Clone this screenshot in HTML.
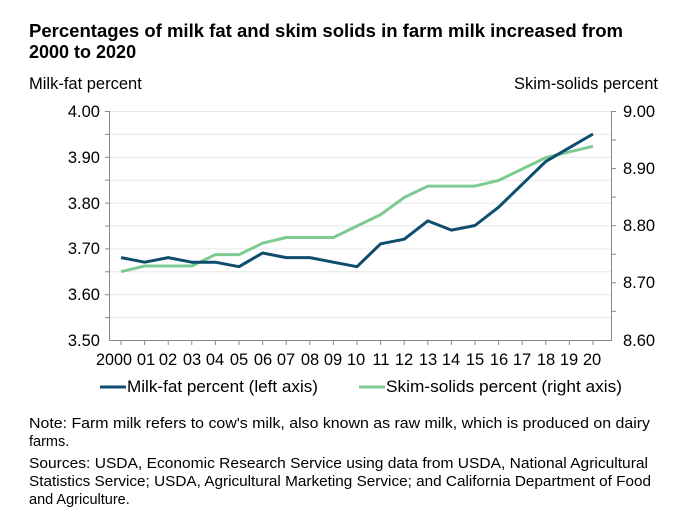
<!DOCTYPE html>
<html><head><meta charset="utf-8"><style>
body{margin:0;background:#fff;width:700px;height:526px;overflow:hidden;font-family:"Liberation Sans",sans-serif;color:#000}
</style></head><body>
<svg width="700" height="526" xmlns="http://www.w3.org/2000/svg" font-family="Liberation Sans, sans-serif">
<text x="29" y="37" font-size="18" font-weight="bold" textLength="594" lengthAdjust="spacingAndGlyphs">Percentages of milk fat and skim solids in farm milk increased from</text>
<text x="29" y="58" font-size="18" font-weight="bold">2000 to 2020</text>
<text x="29" y="89" font-size="16.5">Milk-fat percent</text>
<text x="658" y="89" font-size="16.5" text-anchor="end">Skim-solids percent</text>
<g stroke="#e6e6e6" stroke-width="1">
<line x1="109" x2="612" y1="111.5" y2="111.5"/><line x1="109" x2="612" y1="134.4" y2="134.4"/>
<line x1="109" x2="612" y1="157.3" y2="157.3"/><line x1="109" x2="612" y1="180.2" y2="180.2"/>
<line x1="109" x2="612" y1="203.1" y2="203.1"/><line x1="109" x2="612" y1="226" y2="226"/>
<line x1="109" x2="612" y1="248.9" y2="248.9"/><line x1="109" x2="612" y1="271.8" y2="271.8"/>
<line x1="109" x2="612" y1="294.7" y2="294.7"/><line x1="109" x2="612" y1="317.6" y2="317.6"/>
</g>
<g stroke="#888" stroke-width="1">
<line x1="109.5" x2="109.5" y1="111" y2="340.5"/>
<line x1="611.5" x2="611.5" y1="111" y2="340.5"/>
<line x1="109" x2="612" y1="340.5" y2="340.5"/>
</g>
<g stroke="#888" stroke-width="1">
<line x1="105" x2="109" y1="111.5" y2="111.5"/><line x1="105" x2="109" y1="134.4" y2="134.4"/><line x1="105" x2="109" y1="157.3" y2="157.3"/><line x1="105" x2="109" y1="180.2" y2="180.2"/><line x1="105" x2="109" y1="203.1" y2="203.1"/><line x1="105" x2="109" y1="226" y2="226"/><line x1="105" x2="109" y1="248.9" y2="248.9"/><line x1="105" x2="109" y1="271.8" y2="271.8"/><line x1="105" x2="109" y1="294.7" y2="294.7"/><line x1="105" x2="109" y1="317.6" y2="317.6"/>
<line x1="612" x2="616" y1="111.5" y2="111.5"/><line x1="612" x2="616" y1="140" y2="140"/><line x1="612" x2="616" y1="168.6" y2="168.6"/><line x1="612" x2="616" y1="197.1" y2="197.1"/><line x1="612" x2="616" y1="225.7" y2="225.7"/><line x1="612" x2="616" y1="254.2" y2="254.2"/><line x1="612" x2="616" y1="282.8" y2="282.8"/><line x1="612" x2="616" y1="311.3" y2="311.3"/>
</g>
<g stroke="#888" stroke-width="1">
<path d="M121 340v5M144.6 340v5M168.2 340v5M191.8 340v5M215.4 340v5M239 340v5M262.6 340v5M286.2 340v5M309.8 340v5M333.4 340v5M357 340v5M380.6 340v5M404.2 340v5M427.8 340v5M451.4 340v5M475 340v5M498.6 340v5M522.2 340v5M545.8 340v5M569.4 340v5M593 340v5"/>
</g>
<g font-size="16.5" text-anchor="end">
<text x="100" y="117">4.00</text><text x="100" y="163">3.90</text><text x="100" y="209">3.80</text><text x="100" y="254">3.70</text><text x="100" y="300">3.60</text><text x="100" y="346">3.50</text>
</g>
<g font-size="16.5">
<text x="623" y="117">9.00</text><text x="623" y="174">8.90</text><text x="623" y="231">8.80</text><text x="623" y="288">8.70</text><text x="623" y="346">8.60</text>
</g>
<g font-size="16.5" text-anchor="middle">
<text x="114" y="365" textLength="36" lengthAdjust="spacingAndGlyphs">2000</text><text x="146" y="365">01</text><text x="168" y="365">02</text><text x="192" y="365">03</text><text x="215" y="365">04</text><text x="239" y="365">05</text><text x="263" y="365">06</text><text x="286" y="365">07</text><text x="310" y="365">08</text><text x="333" y="365">09</text><text x="356" y="365">10</text><text x="381" y="365">11</text><text x="404" y="365">12</text><text x="428" y="365">13</text><text x="451" y="365">14</text><text x="475" y="365">15</text><text x="499" y="365">16</text><text x="522" y="365">17</text><text x="546" y="365">18</text><text x="569" y="365">19</text><text x="592" y="365">20</text>
</g>
<polyline fill="none" stroke="#7dcb93" stroke-width="3" stroke-linejoin="round" points="121,271.7 144.6,266 168.2,266 191.8,266 215.4,254.6 239,254.6 262.6,243.2 286.2,237.5 309.8,237.5 333.4,237.5 357,226 380.6,214.6 404.2,197.5 427.8,186.1 451.4,186.1 475,186.1 498.6,180.4 522.2,169 545.8,157.6 569.4,151.9 593,146.2"/>
<polyline fill="none" stroke="#0f4d6e" stroke-width="3" stroke-linejoin="round" points="121,257.6 144.6,262.2 168.2,257.6 191.8,262.2 215.4,262.2 239,266.7 262.6,253 286.2,257.6 309.8,257.6 333.4,262.2 357,266.7 380.6,243.8 404.2,239.2 427.8,220.9 451.4,230.1 475,225.5 498.6,207.2 522.2,184.3 545.8,161.4 569.4,147.7 593,134"/>
<line x1="100" x2="126" y1="387" y2="387" stroke="#0f4d6e" stroke-width="3"/>
<text x="127" y="392" font-size="16.5" textLength="191" lengthAdjust="spacingAndGlyphs">Milk-fat percent (left axis)</text>
<line x1="359" x2="385" y1="387" y2="387" stroke="#7dcb93" stroke-width="3"/>
<text x="386" y="392" font-size="16.5" textLength="236" lengthAdjust="spacingAndGlyphs">Skim-solids percent (right axis)</text>
<g font-size="14.5">
<text x="29" y="428" textLength="621" lengthAdjust="spacingAndGlyphs">Note: Farm milk refers to cow's milk, also known as raw milk, which is produced on dairy</text>
<text x="29" y="446">farms.</text>
<text x="29" y="468" textLength="619" lengthAdjust="spacingAndGlyphs">Sources: USDA, Economic Research Service using data from USDA, National Agricultural</text>
<text x="29" y="486" textLength="622" lengthAdjust="spacingAndGlyphs">Statistics Service; USDA, Agricultural Marketing Service; and California Department of Food</text>
<text x="29" y="504">and Agriculture.</text>
</g>
</svg>
</body></html>
